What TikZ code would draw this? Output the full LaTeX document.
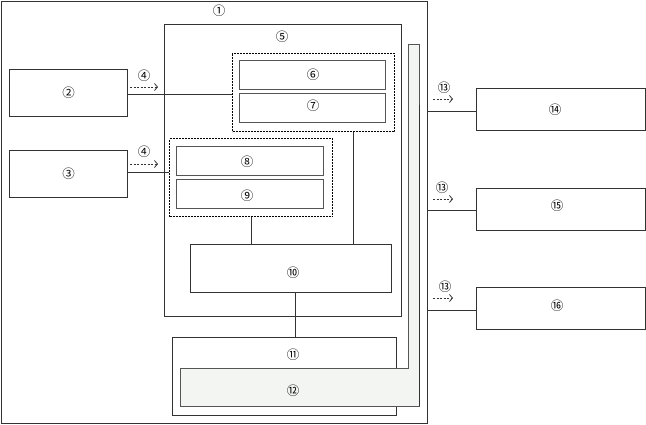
\documentclass[tikz,border=0pt]{standalone}
\usepackage{fontspec}
\newfontfamily\cjk{Noto Sans CJK JP}
\usetikzlibrary{arrows.meta}
\definecolor{edge}{HTML}{333333}
\definecolor{inedge}{HTML}{555555}
\definecolor{lfill}{HTML}{F3F5F3}
\tikzset{
  box/.style={draw=edge,line width=1.1pt,inner sep=0pt,fill=white},
  ibox/.style={draw=inedge,line width=1pt,inner sep=0pt},
  grp/.style={draw=black,dashed,dash pattern=on 2pt off 1pt,line width=1pt,inner sep=0pt},
  lbl/.style={font=\cjk\fontsize{12.5}{12.5}\selectfont,text=black,inner sep=0pt},
  conn/.style={draw=edge,line width=0.9pt},
  dasharrow/.style={draw=edge,line width=0.8pt,dash pattern=on 2pt off 1.5pt,-{Straight Barb[length=3pt,width=7pt]}},
}
\begin{document}
\begin{tikzpicture}[x=1pt,y=-1pt]
\useasboundingbox (0,0) rectangle (646,424);
% outer box 1
\node[box,minimum width=426pt,minimum height=422pt,anchor=north west] (b1) at (1,1) {};
\node[lbl] (l1) at (219,11) {①};
% box 5
\node[box,minimum width=237pt,minimum height=292pt,anchor=north west] (b5) at (164,24) {};
\node[lbl] (l5) at (282,37) {⑤};
% boxes 2, 3
\node[box,minimum width=118pt,minimum height=47pt,anchor=north west,label={[lbl]center:②}] (b2) at (9,69) {};
\node[box,minimum width=118pt,minimum height=47pt,anchor=north west,label={[lbl]center:③}] (b3) at (9,150) {};
% group 6-7
\node[grp,minimum width=162pt,minimum height=78pt,anchor=north west] (g67) at (232,53) {};
\node[ibox,minimum width=146pt,minimum height=29pt,anchor=north west] (b6) at (239,60) {};
\node[lbl] at (313,75) {⑥};
\node[ibox,minimum width=146pt,minimum height=29pt,anchor=north west] (b7) at (239,93) {};
\node[lbl] at (313,106) {⑦};
% group 8-9
\node[grp,minimum width=163pt,minimum height=78pt,anchor=north west] (g89) at (169,138) {};
\node[ibox,minimum width=147pt,minimum height=29pt,anchor=north west] (b8) at (176,146) {};
\node[lbl] at (247,162) {⑧};
\node[ibox,minimum width=147pt,minimum height=29pt,anchor=north west] (b9) at (176,179) {};
\node[lbl] at (247,196) {⑨};
% box 10
\node[box,minimum width=201pt,minimum height=48pt,anchor=north west] (b10) at (190,244) {};
\node[lbl] at (293,273) {⑩};
% box 11
\node[box,minimum width=224pt,minimum height=78pt,anchor=north west] (b11) at (172,337) {};
\node[lbl] at (293,355) {⑪};
% L-shaped 12
\draw[draw=inedge,line width=1pt,fill=lfill] (180.5,368) -- (408,368) -- (408,44) -- (419.5,44) -- (419.5,406) -- (180.5,406) -- cycle;
\draw[edge,line width=1.2pt] (419.5,105) -- (419.5,406);
\node[lbl] at (293,391) {⑫};
% right boxes
\node[box,minimum width=169pt,minimum height=42pt,anchor=north west] (b14) at (476,88) {};
\node[lbl] at (555,110) {⑭};
\node[box,minimum width=169pt,minimum height=42pt,anchor=north west] (b15) at (476,188) {};
\node[lbl] at (557,206) {⑮};
\node[box,minimum width=169pt,minimum height=42pt,anchor=north west] (b16) at (476,287) {};
\node[lbl] at (557,306) {⑯};
% connectors
\draw[conn] (b2.east |- 0,94) -- (g67.west |- 0,94);
\draw[conn] (b3.east |- 0,172) -- (g89.west |- 0,172);
\draw[conn] (g89.south) -- (g89.south |- b10.north);
\draw[conn] ([xshift=40pt]g67.south) -- ([xshift=40pt]g67.south |- b10.north);
\draw[conn] ([xshift=4.5pt]b10.south) -- ([xshift=4.5pt]b10.south |- b11.north);
\draw[conn] (b1.east |- 0,111) -- (b14.west |- 0,111);
\draw[conn] (b1.east |- 0,210) -- (b15.west |- 0,210);
\draw[conn] (b1.east |- 0,310) -- (b16.west |- 0,310);
% labels 4 and 13 with dashed arrows
\node[lbl] (l4a) at (144,76) {④};
\node[lbl] (l4b) at (144,152) {④};
\coordinate (a1s) at (130,87); \coordinate (a1e) at (158,87);
\coordinate (a2s) at (130,164); \coordinate (a2e) at (158,164);
\draw[dasharrow] (a1s) -- (a1e);
\draw[dasharrow] (a2s) -- (a2e);
\node[lbl] (l13a) at (444,88) {⑬};
\node[lbl] (l13b) at (442,188) {⑬};
\node[lbl] (l13c) at (445,287) {⑬};
\coordinate (c1s) at (433,99); \coordinate (c1e) at (453,99);
\coordinate (c2s) at (433,199); \coordinate (c2e) at (453,199);
\coordinate (c3s) at (433,298); \coordinate (c3e) at (453,298);
\draw[dasharrow] (c1s) -- (c1e);
\draw[dasharrow] (c2s) -- (c2e);
\draw[dasharrow] (c3s) -- (c3e);
\end{tikzpicture}
\end{document}
